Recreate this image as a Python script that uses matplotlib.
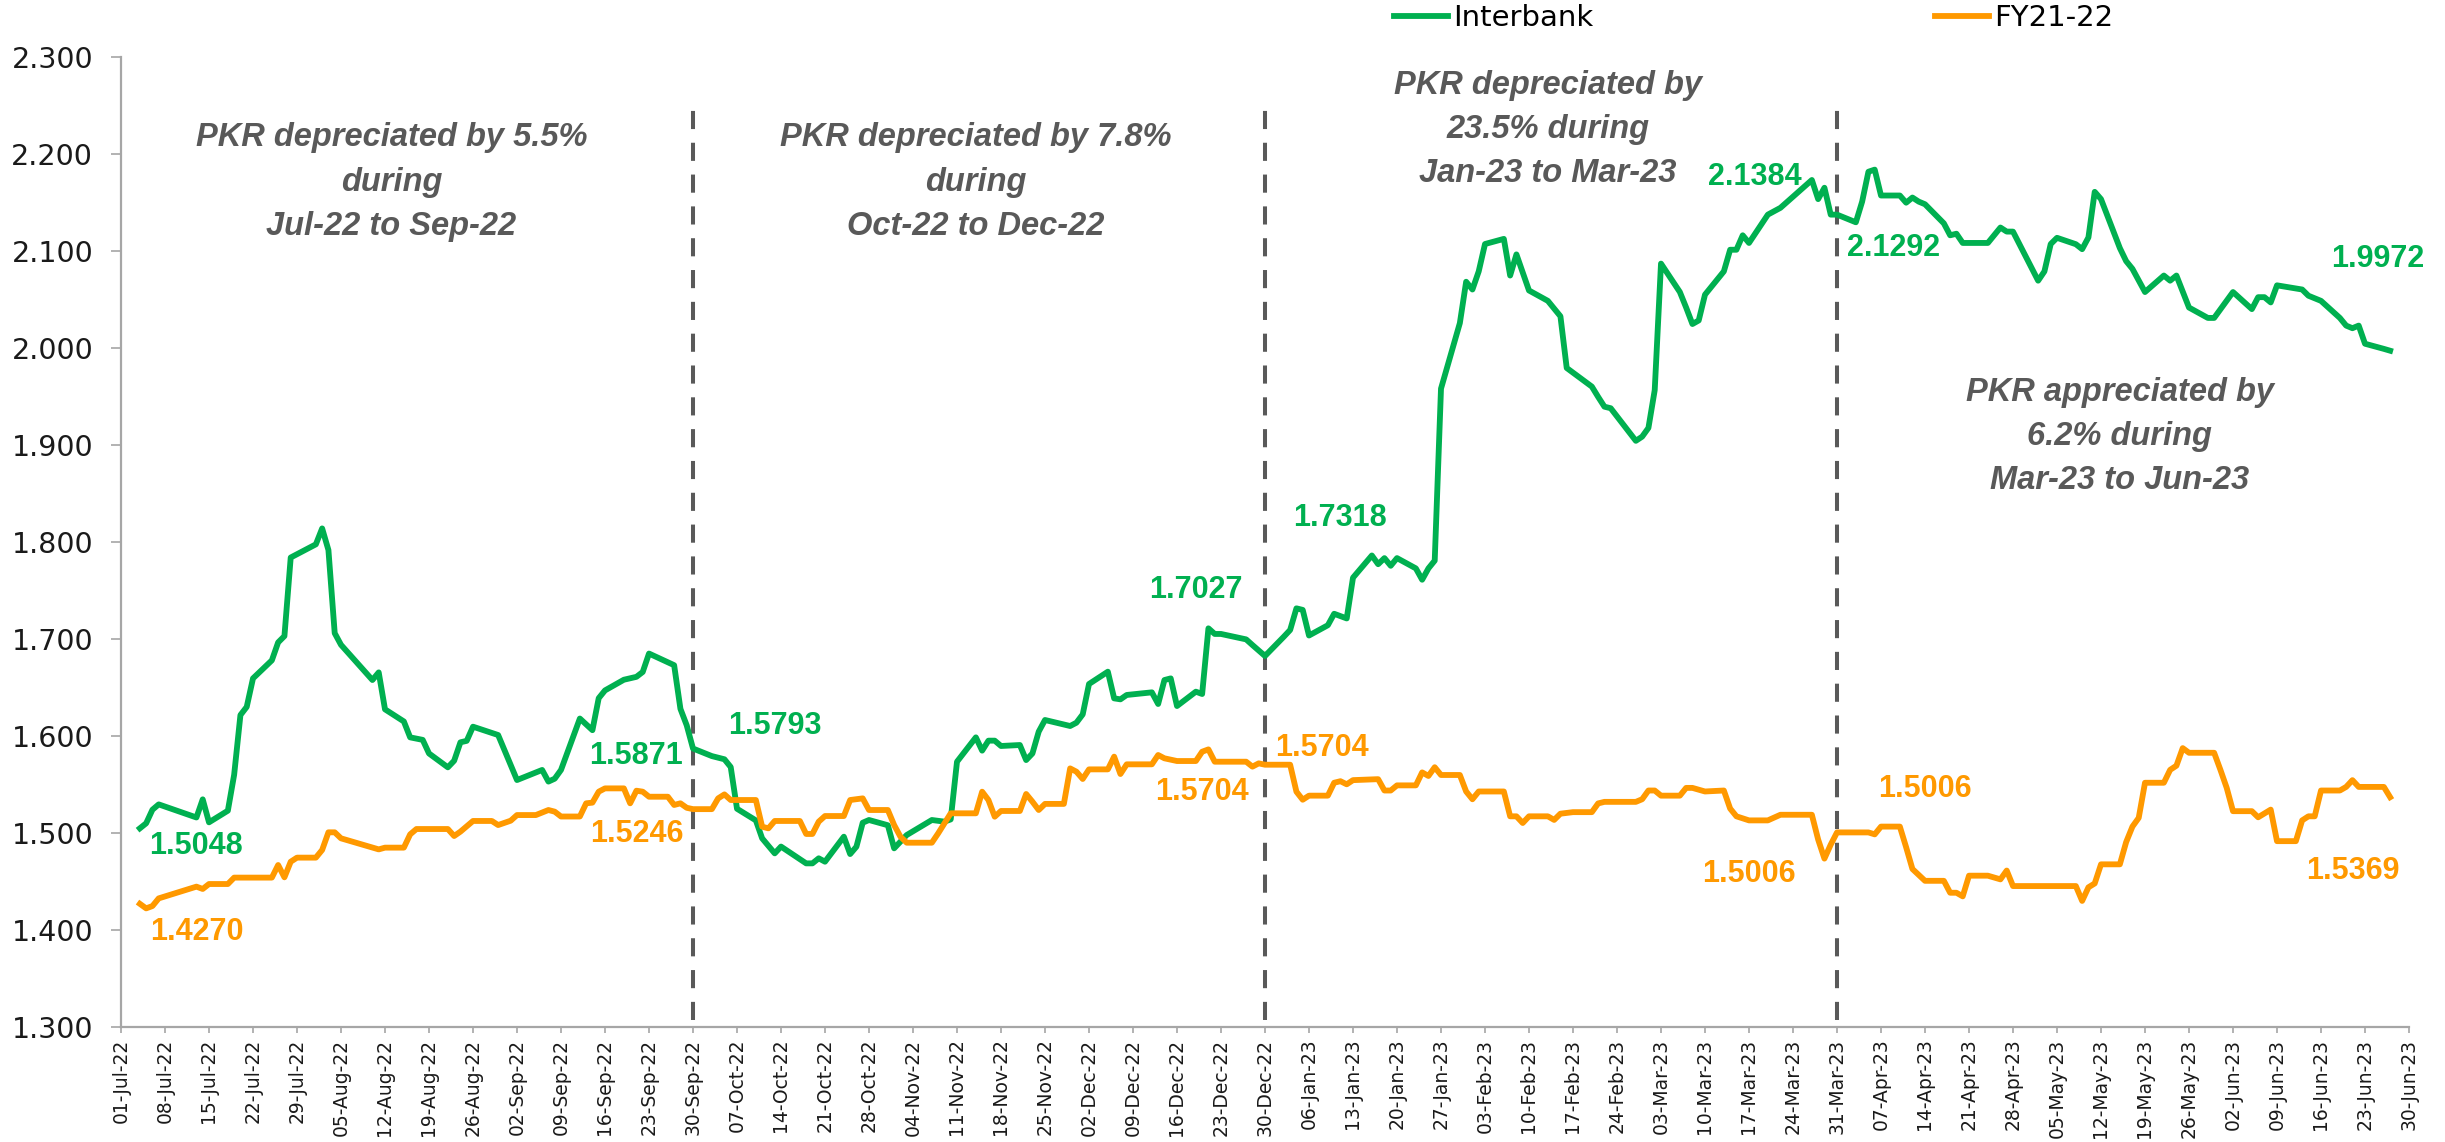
import matplotlib
matplotlib.use("Agg")
import matplotlib.pyplot as plt
import pandas as pd
from matplotlib.lines import Line2D
from matplotlib.ticker import MultipleLocator, FormatStrFormatter

# Interbank series (green)
interbank_dates = [
    "2022-07-04", "2022-07-05", "2022-07-06", "2022-07-07", "2022-07-13", "2022-07-14", "2022-07-15",
    "2022-07-18", "2022-07-19", "2022-07-20", "2022-07-21", "2022-07-22", "2022-07-25", "2022-07-26",
    "2022-07-27", "2022-07-28", "2022-08-01", "2022-08-02", "2022-08-03", "2022-08-04", "2022-08-05",
    "2022-08-10", "2022-08-11", "2022-08-12", "2022-08-15", "2022-08-16", "2022-08-18", "2022-08-19",
    "2022-08-22", "2022-08-23", "2022-08-24", "2022-08-25", "2022-08-26", "2022-08-30", "2022-09-02",
    "2022-09-06", "2022-09-07", "2022-09-08", "2022-09-09", "2022-09-12", "2022-09-14", "2022-09-15",
    "2022-09-16", "2022-09-19", "2022-09-21", "2022-09-22", "2022-09-23", "2022-09-27", "2022-09-28",
    "2022-09-29", "2022-09-30", "2022-10-03", "2022-10-05", "2022-10-06", "2022-10-07", "2022-10-10",
    "2022-10-11", "2022-10-13", "2022-10-14", "2022-10-18", "2022-10-19", "2022-10-20", "2022-10-21",
    "2022-10-24", "2022-10-25", "2022-10-26", "2022-10-27", "2022-10-28", "2022-10-31", "2022-11-01",
    "2022-11-03", "2022-11-07", "2022-11-09", "2022-11-10", "2022-11-11", "2022-11-14", "2022-11-15",
    "2022-11-16", "2022-11-17", "2022-11-18", "2022-11-21", "2022-11-22", "2022-11-23", "2022-11-24",
    "2022-11-25", "2022-11-29", "2022-11-30", "2022-12-01", "2022-12-02", "2022-12-05", "2022-12-06",
    "2022-12-07", "2022-12-08", "2022-12-12", "2022-12-13", "2022-12-14", "2022-12-15", "2022-12-16",
    "2022-12-19", "2022-12-20", "2022-12-21", "2022-12-22", "2022-12-23", "2022-12-27", "2022-12-28",
    "2022-12-30", "2023-01-02", "2023-01-03", "2023-01-04", "2023-01-05", "2023-01-06", "2023-01-09",
    "2023-01-10", "2023-01-12", "2023-01-13", "2023-01-16", "2023-01-17", "2023-01-18", "2023-01-19",
    "2023-01-20", "2023-01-23", "2023-01-24", "2023-01-25", "2023-01-26", "2023-01-27", "2023-01-30",
    "2023-01-31", "2023-02-01", "2023-02-02", "2023-02-03", "2023-02-06", "2023-02-07", "2023-02-08",
    "2023-02-10", "2023-02-13", "2023-02-15", "2023-02-16", "2023-02-20", "2023-02-21", "2023-02-22",
    "2023-02-23", "2023-02-27", "2023-02-28", "2023-03-01", "2023-03-02", "2023-03-03", "2023-03-06",
    "2023-03-07", "2023-03-08", "2023-03-09", "2023-03-10", "2023-03-13", "2023-03-14", "2023-03-15",
    "2023-03-16", "2023-03-17", "2023-03-20", "2023-03-22", "2023-03-27", "2023-03-28", "2023-03-29",
    "2023-03-30", "2023-03-31", "2023-04-03", "2023-04-04", "2023-04-05", "2023-04-06", "2023-04-07",
    "2023-04-10", "2023-04-11", "2023-04-12", "2023-04-13", "2023-04-14", "2023-04-17", "2023-04-18",
    "2023-04-19", "2023-04-20", "2023-04-24", "2023-04-26", "2023-04-27", "2023-04-28", "2023-05-02",
    "2023-05-03", "2023-05-04", "2023-05-05", "2023-05-08", "2023-05-09", "2023-05-10", "2023-05-11",
    "2023-05-12", "2023-05-15", "2023-05-16", "2023-05-17", "2023-05-19", "2023-05-22", "2023-05-23",
    "2023-05-24", "2023-05-26", "2023-05-29", "2023-05-30", "2023-06-02", "2023-06-05", "2023-06-06",
    "2023-06-07", "2023-06-08", "2023-06-09", "2023-06-12", "2023-06-13", "2023-06-14", "2023-06-16",
    "2023-06-19", "2023-06-20", "2023-06-21", "2023-06-22", "2023-06-23", "2023-06-26", "2023-06-27",
]
interbank_values = [
    1.5048, 1.5100, 1.5240, 1.5295, 1.5160, 1.5347, 1.5110,
    1.5230, 1.5600, 1.6216, 1.6300, 1.6594, 1.6780, 1.6965,
    1.7030, 1.7840, 1.7976, 1.8140, 1.7917, 1.7060, 1.6940,
    1.6577, 1.6656, 1.6275, 1.6150, 1.5986, 1.5960, 1.5820,
    1.5677, 1.5745, 1.5935, 1.5950, 1.6096, 1.6010, 1.5546,
    1.5650, 1.5530, 1.5560, 1.5650, 1.6180, 1.6060, 1.6390,
    1.6470, 1.6580, 1.6610, 1.6660, 1.6850, 1.6730, 1.6280,
    1.6110, 1.5871, 1.5793, 1.5760, 1.5680, 1.5250, 1.5130,
    1.4945, 1.4790, 1.4860, 1.4687, 1.4687, 1.4739, 1.4704,
    1.4962, 1.4783, 1.4859, 1.5106, 1.5134, 1.5080, 1.4842,
    1.4979, 1.5134, 1.5117, 1.5140, 1.5735, 1.5986, 1.5849,
    1.5952, 1.5952, 1.5897, 1.5907, 1.5752, 1.5820, 1.6045,
    1.6165, 1.6103, 1.6137, 1.6223, 1.6536, 1.6663, 1.6388,
    1.6378, 1.6423, 1.6450, 1.6330, 1.6577, 1.6594, 1.6309,
    1.6457, 1.6433, 1.7110, 1.7052, 1.7052, 1.6996, 1.6938,
    1.6825, 1.7024, 1.7093, 1.7316, 1.7300, 1.7036, 1.7142,
    1.7260, 1.7212, 1.7632, 1.7861, 1.7771, 1.7834, 1.7755,
    1.7834, 1.7728, 1.7611, 1.7728, 1.7808, 1.9581, 2.0257,
    2.0683, 2.0603, 2.0790, 2.1072, 2.1125, 2.0747, 2.0965,
    2.0593, 2.0486, 2.0327, 1.9794, 1.9602, 1.9496, 1.9395,
    1.9379, 1.9043, 1.9086, 1.9176, 1.9565, 2.0870, 2.0577,
    2.0417, 2.0247, 2.0284, 2.0550, 2.0790, 2.1013, 2.1013,
    2.1162, 2.1083, 2.1375, 2.1445, 2.1732, 2.1535, 2.1652,
    2.1375, 2.1375, 2.1296, 2.1509, 2.1817, 2.1839, 2.1572,
    2.1572, 2.1498, 2.1551, 2.1509, 2.1482, 2.1285, 2.1162,
    2.1178, 2.1083, 2.1083, 2.1242, 2.1200, 2.1200, 2.0694,
    2.0790, 2.1072, 2.1136, 2.1070, 2.1019, 2.1140, 2.1610,
    2.1535, 2.1030, 2.0896, 2.0816, 2.0577, 2.0747, 2.0694,
    2.0747, 2.0417, 2.0310, 2.0310, 2.0577, 2.0401, 2.0524,
    2.0524, 2.0470, 2.0646, 2.0614, 2.0603, 2.0539, 2.0486,
    2.0310, 2.0231, 2.0204, 2.0231, 2.0044, 1.9991, 1.9972,
]

# FY21-22 series (orange)
fy_dates = [
    "2022-07-04", "2022-07-05", "2022-07-06", "2022-07-07", "2022-07-13", "2022-07-14", "2022-07-15",
    "2022-07-18", "2022-07-19", "2022-07-25", "2022-07-26", "2022-07-27", "2022-07-28", "2022-07-29",
    "2022-08-01", "2022-08-02", "2022-08-03", "2022-08-04", "2022-08-05", "2022-08-11", "2022-08-12",
    "2022-08-15", "2022-08-16", "2022-08-17", "2022-08-22", "2022-08-23", "2022-08-24", "2022-08-26",
    "2022-08-29", "2022-08-30", "2022-09-01", "2022-09-02", "2022-09-05", "2022-09-07", "2022-09-08",
    "2022-09-09", "2022-09-12", "2022-09-13", "2022-09-14", "2022-09-15", "2022-09-16", "2022-09-19",
    "2022-09-20", "2022-09-21", "2022-09-22", "2022-09-23", "2022-09-26", "2022-09-27", "2022-09-28",
    "2022-09-29", "2022-09-30", "2022-10-03", "2022-10-04", "2022-10-05", "2022-10-06", "2022-10-10",
    "2022-10-11", "2022-10-12", "2022-10-13", "2022-10-17", "2022-10-18", "2022-10-19", "2022-10-20",
    "2022-10-21", "2022-10-24", "2022-10-25", "2022-10-27", "2022-10-28", "2022-10-31", "2022-11-01",
    "2022-11-02", "2022-11-03", "2022-11-07", "2022-11-08", "2022-11-09", "2022-11-10", "2022-11-14",
    "2022-11-15", "2022-11-16", "2022-11-17", "2022-11-18", "2022-11-21", "2022-11-22", "2022-11-23",
    "2022-11-24", "2022-11-25", "2022-11-28", "2022-11-29", "2022-11-30", "2022-12-01", "2022-12-02",
    "2022-12-05", "2022-12-06", "2022-12-07", "2022-12-08", "2022-12-12", "2022-12-13", "2022-12-14",
    "2022-12-16", "2022-12-19", "2022-12-20", "2022-12-21", "2022-12-22", "2022-12-27", "2022-12-28",
    "2022-12-29", "2022-12-30", "2023-01-03", "2023-01-04", "2023-01-05", "2023-01-06", "2023-01-09",
    "2023-01-10", "2023-01-11", "2023-01-12", "2023-01-13", "2023-01-17", "2023-01-18", "2023-01-19",
    "2023-01-20", "2023-01-23", "2023-01-24", "2023-01-25", "2023-01-26", "2023-01-27", "2023-01-30",
    "2023-01-31", "2023-02-01", "2023-02-02", "2023-02-06", "2023-02-07", "2023-02-08", "2023-02-09",
    "2023-02-10", "2023-02-13", "2023-02-14", "2023-02-15", "2023-02-17", "2023-02-20", "2023-02-21",
    "2023-02-22", "2023-02-27", "2023-02-28", "2023-03-01", "2023-03-02", "2023-03-03", "2023-03-06",
    "2023-03-07", "2023-03-08", "2023-03-10", "2023-03-13", "2023-03-14", "2023-03-15", "2023-03-17",
    "2023-03-20", "2023-03-22", "2023-03-27", "2023-03-28", "2023-03-29", "2023-03-30", "2023-03-31",
    "2023-04-05", "2023-04-06", "2023-04-07", "2023-04-10", "2023-04-11", "2023-04-12", "2023-04-14",
    "2023-04-17", "2023-04-18", "2023-04-19", "2023-04-20", "2023-04-21", "2023-04-24", "2023-04-26",
    "2023-04-27", "2023-04-28", "2023-05-08", "2023-05-09", "2023-05-10", "2023-05-11", "2023-05-12",
    "2023-05-15", "2023-05-16", "2023-05-17", "2023-05-18", "2023-05-19", "2023-05-22", "2023-05-23",
    "2023-05-24", "2023-05-25", "2023-05-26", "2023-05-30", "2023-05-31", "2023-06-01", "2023-06-02",
    "2023-06-05", "2023-06-06", "2023-06-08", "2023-06-09", "2023-06-12", "2023-06-13", "2023-06-14",
    "2023-06-15", "2023-06-16", "2023-06-19", "2023-06-20", "2023-06-21", "2023-06-22", "2023-06-26",
    "2023-06-27",
]
fy_values = [
    1.4270, 1.4223, 1.4247, 1.4326, 1.4447, 1.4423, 1.4474,
    1.4474, 1.4540, 1.4540, 1.4670, 1.4543, 1.4704, 1.4746,
    1.4746, 1.4825, 1.5007, 1.5007, 1.4945, 1.4831, 1.4849,
    1.4849, 1.4986, 1.5041, 1.5041, 1.4969, 1.5014, 1.5124,
    1.5124, 1.5082, 1.5127, 1.5185, 1.5185, 1.5237, 1.5220,
    1.5170, 1.5170, 1.5306, 1.5313, 1.5426, 1.5460, 1.5460,
    1.5306, 1.5436, 1.5426, 1.5374, 1.5374, 1.5289, 1.5306,
    1.5260, 1.5246, 1.5246, 1.5357, 1.5398, 1.5340, 1.5340,
    1.5065, 1.5048, 1.5124, 1.5124, 1.4990, 1.4990, 1.5117,
    1.5175, 1.5175, 1.5340, 1.5357, 1.5237, 1.5237, 1.5082,
    1.4962, 1.4900, 1.4900, 1.4996, 1.5100, 1.5203, 1.5203,
    1.5426, 1.5340, 1.5168, 1.5227, 1.5227, 1.5402, 1.5323,
    1.5237, 1.5300, 1.5300, 1.5666, 1.5632, 1.5557, 1.5656,
    1.5656, 1.5787, 1.5608, 1.5708, 1.5708, 1.5804, 1.5770,
    1.5742, 1.5742, 1.5838, 1.5862, 1.5735, 1.5735, 1.5684,
    1.5718, 1.5704, 1.5704, 1.5426, 1.5343, 1.5385, 1.5385,
    1.5518, 1.5534, 1.5502, 1.5545, 1.5555, 1.5438, 1.5438,
    1.5491, 1.5491, 1.5625, 1.5588, 1.5678, 1.5598, 1.5598,
    1.5428, 1.5348, 1.5428, 1.5428, 1.5172, 1.5172, 1.5103,
    1.5172, 1.5172, 1.5135, 1.5199, 1.5215, 1.5215, 1.5305,
    1.5321, 1.5321, 1.5348, 1.5438, 1.5438, 1.5385, 1.5385,
    1.5465, 1.5465, 1.5428, 1.5438, 1.5252, 1.5172, 1.5130,
    1.5130, 1.5188, 1.5188, 1.4933, 1.4736, 1.4880, 1.5006,
    1.5006, 1.4986, 1.5066, 1.5066, 1.4853, 1.4629, 1.4507,
    1.4507, 1.4384, 1.4384, 1.4347, 1.4560, 1.4560, 1.4522,
    1.4613, 1.4453, 1.4453, 1.4300, 1.4440, 1.4480, 1.4677,
    1.4677, 1.4906, 1.5066, 1.5156, 1.5518, 1.5518, 1.5651,
    1.5694, 1.5875, 1.5827, 1.5827, 1.5651, 1.5465, 1.5225,
    1.5225, 1.5162, 1.5241, 1.4916, 1.4916, 1.5130, 1.5172,
    1.5172, 1.5438, 1.5438, 1.5475, 1.5545, 1.5475, 1.5475,
    1.5369,
]

quarter_ends = ["2022-09-30", "2022-12-30", "2023-03-31"]

# quarter commentary: text, centre date, y
notes = [
    ("PKR depreciated by 5.5%\nduring\nJul-22 to Sep-22", "2022-08-13", 2.171),
    ("PKR depreciated by 7.8%\nduring\nOct-22 to Dec-22", "2022-11-14", 2.171),
    ("PKR depreciated by\n23.5% during\nJan-23 to Mar-23", "2023-02-13", 2.225),
    ("PKR appreciated by\n6.2% during\nMar-23 to Jun-23", "2023-05-15", 1.909),
]

# value labels: text, series, date, y
value_labels = [
    ("1.5048", "ib", "2022-07-13", 1.487),
    ("1.5871", "ib", "2022-09-21", 1.579),
    ("1.5793", "ib", "2022-10-13", 1.610),
    ("1.7027", "ib", "2022-12-19", 1.750),
    ("1.7318", "ib", "2023-01-11", 1.825),
    ("2.1384", "ib", "2023-03-18", 2.176),
    ("2.1292", "ib", "2023-04-09", 2.103),
    ("1.9972", "ib", "2023-06-25", 2.092),
    ("1.4270", "fy", "2022-07-13", 1.398),
    ("1.5246", "fy", "2022-09-21", 1.499),
    ("1.5704", "fy", "2023-01-08", 1.588),
    ("1.5704", "fy", "2022-12-20", 1.542),
    ("1.5006", "fy", "2023-03-17", 1.458),
    ("1.5006", "fy", "2023-04-14", 1.545),
    ("1.5369", "fy", "2023-06-21", 1.461),
]

GREEN = "#00B050"
ORANGE = "#FF9900"
colors = {"ib": GREEN, "fy": ORANGE}

ib = pd.Series(interbank_values, index=pd.to_datetime(interbank_dates))
fy = pd.Series(fy_values, index=pd.to_datetime(fy_dates))

fig = plt.figure(figsize=(24.45, 11.42), dpi=100)
ax = fig.add_axes([121 / 2445, 1 - 1027 / 1142, 2288 / 2445, 970 / 1142])

ax.plot(ib.index, ib.values, color=GREEN, lw=4.2, solid_joinstyle="round")
ax.plot(fy.index, fy.values, color=ORANGE, lw=4.2, solid_joinstyle="round")

for d in quarter_ends:
    ax.plot([pd.Timestamp(d)] * 2, [1.307, 2.254], color="#595959", lw=2.9,
            dashes=(4.5, 3.4), zorder=1)

ax.set_xlim(pd.Timestamp("2022-07-01"), pd.Timestamp("2023-06-30"))
ax.set_ylim(1.3, 2.3)
ax.yaxis.set_major_locator(MultipleLocator(0.1))
ax.yaxis.set_major_formatter(FormatStrFormatter("%.3f"))
ticks = pd.date_range("2022-07-01", "2023-06-30", freq="7D")
ax.set_xticks(ticks)
ax.set_xticklabels([t.strftime("%d-%b-%y") for t in ticks], rotation=90)

for s in ["top", "right"]:
    ax.spines[s].set_visible(False)
for s in ["left", "bottom"]:
    ax.spines[s].set_color("#A6A6A6")
    ax.spines[s].set_linewidth(1.6)

ax.tick_params(axis="y", length=7, width=1.2, color="#A6A6A6", pad=13,
               labelsize=20.5, labelcolor="#1a1a1a")
ax.tick_params(axis="x", length=4.3, width=1.2, color="#A6A6A6", pad=4,
               labelsize=13.5, labelcolor="#1a1a1a")

for txt, d, y in notes:
    ax.text(pd.Timestamp(d), y, txt, ha="center", va="center", fontsize=23.5,
            color="#595959", fontweight="bold", fontstyle="italic",
            family=["Liberation Sans", "DejaVu Sans"], linespacing=1.55)

for txt, key, d, y in value_labels:
    ax.text(pd.Timestamp(d), y, txt, ha="center", va="center", fontsize=22,
            color=colors[key], fontweight="bold",
            family=["Liberation Sans", "DejaVu Sans"])

handles = [Line2D([], [], color=GREEN, lw=4.2), Line2D([], [], color=ORANGE, lw=4.2)]
fig.legend(handles, ["Interbank", "FY21-22"], loc="center",
           bbox_to_anchor=(0.7172, 0.9842), ncol=2, frameon=False,
           fontsize=21, handlelength=1.85, handletextpad=0.17,
           columnspacing=11.7, borderpad=0, borderaxespad=0)

fig.savefig("out.png", dpi=100)
